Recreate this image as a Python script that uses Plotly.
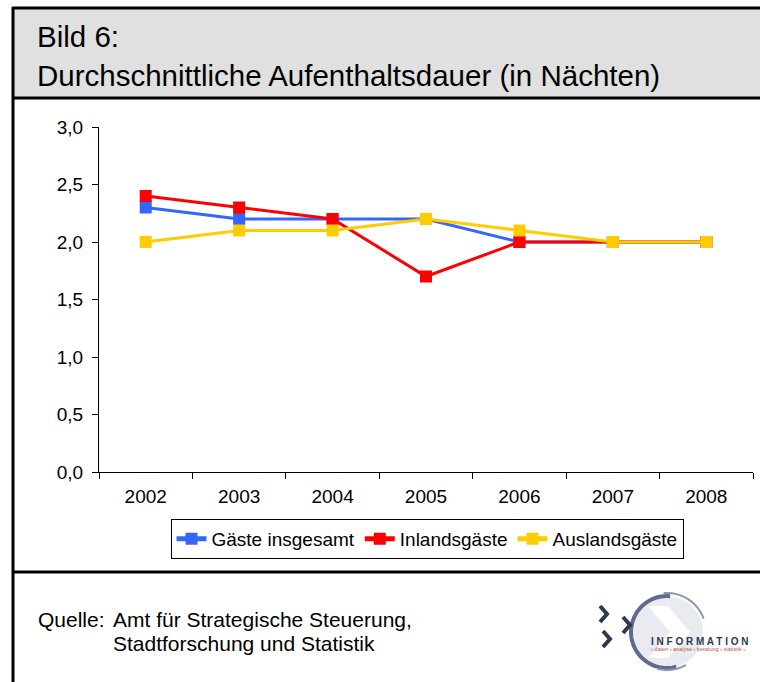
import numpy as np
import plotly.graph_objects as go

# ---- data ----
years = ["2002", "2003", "2004", "2005", "2006", "2007", "2008"]
gaeste_insgesamt = [2.3, 2.2, 2.2, 2.2, 2.0, 2.0, 2.0]
inlandsgaeste = [2.4, 2.3, 2.2, 1.7, 2.0, 2.0, 2.0]
auslandsgaeste = [2.0, 2.1, 2.1, 2.2, 2.1, 2.0, 2.0]
series_names = ["Gäste insgesamt", "Inlandsgäste", "Auslandsgäste"]
series_colors = ["#3366FF", "#FF0000", "#FFCC00"]
y_ticks = [0.0, 0.5, 1.0, 1.5, 2.0, 2.5, 3.0]

W, H = 760, 682
L, R, T, B = 99, 753, 127, 472  # plot area in pixels


def px(x):
    return (x - L) / (R - L)


def py(y):
    return (B - y) / (B - T)


fig = go.Figure()
for name, vals, col in zip(series_names, [gaeste_insgesamt, inlandsgaeste, auslandsgaeste], series_colors):
    fig.add_trace(go.Scatter(
        x=years, y=vals, name=name, mode="lines+markers",
        line=dict(color=col, width=3),
        marker=dict(symbol="square", size=12, color=col, line=dict(width=0)),
    ))

font = "Liberation Sans, Arial, sans-serif"
shapes = []
# header background
shapes.append(dict(type="rect", xref="paper", yref="paper", layer="below",
                   x0=px(13), x1=px(800), y0=py(8), y1=py(98),
                   fillcolor="#E0E0E0", line=dict(width=0)))
black = dict(color="black", width=3)
for yy in [8, 98, 572]:
    shapes.append(dict(type="line", xref="paper", yref="paper",
                       x0=px(12), x1=px(800), y0=py(yy), y1=py(yy), line=black))
shapes.append(dict(type="line", xref="paper", yref="paper",
                   x0=px(13), x1=px(13), y0=py(7), y1=py(700), line=black))

# ---- logo approximation ----
cx, cy, rr = 667, 632, 36
shapes.append(dict(type="circle", xref="paper", yref="paper", layer="below",
                   x0=px(cx - rr), x1=px(cx + rr), y0=py(cy - rr), y1=py(cy + rr),
                   fillcolor="#E9EBF0", line=dict(width=0)))


def arc(r, a0, a1, n=60):
    a = np.radians(np.linspace(a0, a1, n))
    pts = [(px(cx + r * np.cos(t)), py(cy - r * np.sin(t))) for t in a]
    return "M " + " L ".join(f"{x:.5f},{y:.5f}" for x, y in pts)


shapes.append(dict(type="path", xref="paper", yref="paper", path=arc(rr, 85, 285),
                   line=dict(color="#5E6B8C", width=4)))
shapes.append(dict(type="path", xref="paper", yref="paper", path=arc(rr + 3, 20, 95),
                   line=dict(color="#8C96B0", width=2)))
shapes.append(dict(type="path", xref="paper", yref="paper", path=arc(rr + 2, 255, 300),
                   line=dict(color="#8C96B0", width=2)))
# white chevron inside circle
shapes.append(dict(type="path", xref="paper", yref="paper",
                   path=f"M {px(648)},{py(606)} L {px(668)},{py(606)} L {px(690)},{py(632)} "
                        f"L {px(668)},{py(658)} L {px(648)},{py(658)} L {px(670)},{py(632)} Z",
                   fillcolor="white", line=dict(width=0)))


def chevron(x, y):
    return f"M {px(x)},{py(y - 8)} L {px(x + 7)},{py(y)} L {px(x)},{py(y + 8)}"


for (xx, yy) in [(600, 614), (623, 625), (603, 639)]:
    shapes.append(dict(type="path", xref="paper", yref="paper", path=chevron(xx, yy),
                       line=dict(color="#2B3A52", width=4)))

annotations = [
    dict(text="Bild 6:", x=px(35), y=py(37), xref="paper", yref="paper",
         xanchor="left", yanchor="middle", showarrow=False,
         font=dict(family=font, size=29.5, color="black")),
    dict(text="Durchschnittliche Aufenthaltsdauer (in Nächten)", x=px(35), y=py(76),
         xref="paper", yref="paper", xanchor="left", yanchor="middle", showarrow=False,
         font=dict(family=font, size=29.5, color="black")),
    dict(text="Quelle:", x=px(36), y=py(619), xref="paper", yref="paper",
         xanchor="left", yanchor="middle", showarrow=False,
         font=dict(family=font, size=21, color="black")),
    dict(text="Amt für Strategische Steuerung,", x=px(111), y=py(619), xref="paper", yref="paper",
         xanchor="left", yanchor="middle", showarrow=False,
         font=dict(family=font, size=21, color="black")),
    dict(text="Stadtforschung und Statistik", x=px(111), y=py(643), xref="paper", yref="paper",
         xanchor="left", yanchor="middle", showarrow=False,
         font=dict(family=font, size=21, color="black")),
    dict(text="<b>I N F O R M A T I O N</b>", x=px(649), y=py(641), xref="paper", yref="paper",
         xanchor="left", yanchor="middle", showarrow=False,
         font=dict(family=font, size=10, color="#2B3A52")),
    dict(text="› daten › analyse › beratung › statistik ›", x=px(649), y=py(649), xref="paper",
         yref="paper", xanchor="left", yanchor="middle", showarrow=False,
         font=dict(family=font, size=5.5, color="#C0504D")),
]

fig.update_layout(
    width=W, height=H,
    margin=dict(l=L, r=W - R, t=T, b=H - B, pad=0),
    paper_bgcolor="white", plot_bgcolor="white",
    separators=",.",
    font=dict(family=font, size=19, color="black"),
    showlegend=True,
    legend=dict(orientation="h", x=px(427), y=py(539), xanchor="center", yanchor="middle",
                bordercolor="black", borderwidth=1, bgcolor="white",
                font=dict(family=font, size=19, color="black"),
                itemsizing="constant", tracegroupgap=0),
    xaxis=dict(type="category", range=[-0.5, 6.5], showline=True, linecolor="black", linewidth=1,
               ticks="outside", tickson="boundaries", ticklen=6, tickcolor="black",
               ticklabelstandoff=7,
               showgrid=False, zeroline=False, tickfont=dict(size=19, color="black")),
    yaxis=dict(range=[0, 3], tickvals=y_ticks, tickformat=".1f", showline=True,
               linecolor="black", linewidth=1, ticks="outside", ticklen=6, tickcolor="black",
               ticklabelstandoff=5,
               showgrid=False, zeroline=False, tickfont=dict(size=19, color="black")),
    shapes=shapes, annotations=annotations,
)

fig.write_html("out.html", config={"displayModeBar": False},
               post_script="document.body.style.margin='0';document.body.style.overflow='hidden';")
